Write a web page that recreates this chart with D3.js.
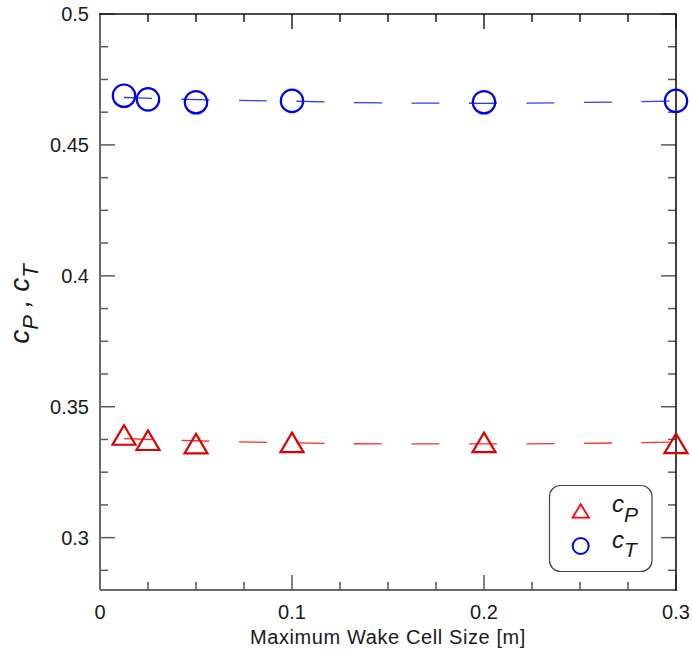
<!DOCTYPE html>
<html>
<head>
<meta charset="utf-8">
<script src="https://cdn.jsdelivr.net/npm/d3@7"></script>
<style>
  html, body { margin: 0; padding: 0; background: #fff; }
  svg { display: block; }
  text { font-family: "Liberation Sans", Arial, sans-serif; fill: #1a1a1a; }
</style>
</head>
<body>
<svg id="chart" width="692" height="650"></svg>
<script>
// ---- data ----
const cellSize = [0.0125, 0.025, 0.05, 0.1, 0.2, 0.3];
const cpValues = [0.3392, 0.3372, 0.3359, 0.3364, 0.3364, 0.3360];
const ctValues = [0.4688, 0.4674, 0.4663, 0.4668, 0.4663, 0.4668];

// fitted trend curves (dashed)
const fitX  = [0.0125, 0.05, 0.1, 0.15, 0.2, 0.25, 0.3];
const fitCP = [0.3378, 0.3370, 0.3362, 0.3358, 0.3358, 0.3360, 0.3365];
const fitCT = [0.4681, 0.4673, 0.4667, 0.4660, 0.4659, 0.4662, 0.4668];

const xTickValues = [0, 0.1, 0.2, 0.3];
const xTickLabels = ["0", "0.1", "0.2", "0.3"];
const yTickValues = [0.3, 0.35, 0.4, 0.45, 0.5];
const yTickLabels = ["0.3", "0.35", "0.4", "0.45", "0.5"];
const xMinorStep = 0.025;
const yMinorStep = 0.0125;

const xTitle = "Maximum Wake Cell Size [m]";

// ---- layout ----
const svg = d3.select("#chart");
const L = 100, R = 676, T = 14, B = 590;

const x = d3.scaleLinear().domain([0, 0.3]).range([L, R]);
const y = d3.scaleLinear().domain([0.28, 0.5]).range([B, T]);

const xMinor = d3.range(0, 0.3 + 1e-9, xMinorStep);
const yMinor = d3.range(0.2875, 0.5 + 1e-9, yMinorStep);
const isMajor = (v, arr) => arr.some(a => Math.abs(a - v) < 1e-7);

const g = svg.append("g");

// ticks (inward, all four sides)
const tickCol = "#5a5a5a";
xMinor.forEach(v => {
  const len = isMajor(v, xTickValues) ? 15 : 8;
  g.append("line").attr("x1", x(v)).attr("x2", x(v)).attr("y1", B).attr("y2", B - len)
    .attr("stroke", tickCol).attr("stroke-width", 1.5);
  g.append("line").attr("x1", x(v)).attr("x2", x(v)).attr("y1", T).attr("y2", T + len)
    .attr("stroke", "#222").attr("stroke-width", 1.5);
});
yMinor.forEach(v => {
  const len = isMajor(v, yTickValues) ? 15 : 8;
  g.append("line").attr("x1", L).attr("x2", L + len).attr("y1", y(v)).attr("y2", y(v))
    .attr("stroke", tickCol).attr("stroke-width", 1.5);
  g.append("line").attr("x1", R).attr("x2", R - len).attr("y1", y(v)).attr("y2", y(v))
    .attr("stroke", tickCol).attr("stroke-width", 1.5);
});

// frame
g.append("line").attr("x1", L).attr("x2", L).attr("y1", T).attr("y2", B).attr("stroke", "#6a6a6a").attr("stroke-width", 2);
g.append("line").attr("x1", L).attr("x2", R).attr("y1", B).attr("y2", B).attr("stroke", "#6a6a6a").attr("stroke-width", 2);
g.append("line").attr("x1", L - 1).attr("x2", R + 1).attr("y1", T).attr("y2", T).attr("stroke", "#111").attr("stroke-width", 1.6);
g.append("line").attr("x1", R).attr("x2", R).attr("y1", T).attr("y2", B + 1).attr("stroke", "#111").attr("stroke-width", 1.6);

// tick labels
xTickValues.forEach((v, i) => {
  g.append("text").attr("x", x(v)).attr("y", 619).attr("text-anchor", "middle")
    .attr("font-size", 20).text(xTickLabels[i]);
});
yTickValues.forEach((v, i) => {
  g.append("text").attr("x", 89).attr("y", y(v) + 7).attr("text-anchor", "end")
    .attr("font-size", 20).text(yTickLabels[i]);
});

// axis titles
g.append("text").attr("x", 388).attr("y", 644).attr("text-anchor", "middle")
  .attr("font-size", 20).attr("letter-spacing", 0.6).text(xTitle);

const yt = g.append("text").attr("transform", "translate(29,304) rotate(-90)")
  .attr("text-anchor", "middle").attr("font-size", 28).attr("font-style", "italic");
yt.append("tspan").text("c");
yt.append("tspan").attr("font-size", 22).attr("dy", 9).text("P");
yt.append("tspan").attr("dy", -9).text(" , ");
yt.append("tspan").text("c");
yt.append("tspan").attr("font-size", 22).attr("dy", 9).text("T");

// fit lines
const line = d3.line().x(d => x(d[0])).y(d => y(d[1])).curve(d3.curveMonotoneX);
g.append("path").datum(fitX.map((v, i) => [v, fitCT[i]])).attr("d", line)
  .attr("fill", "none").attr("stroke", "#2a3cff").attr("stroke-width", 1.3)
  .attr("stroke-dasharray", "28,29.5");
g.append("path").datum(fitX.map((v, i) => [v, fitCP[i]])).attr("d", line)
  .attr("fill", "none").attr("stroke", "#ff2a2a").attr("stroke-width", 1.3)
  .attr("stroke-dasharray", "28,29.5");

// markers
const triPath = (w, h) => `M0,${-h/2}L${w/2},${h/2}L${-w/2},${h/2}Z`;
cellSize.forEach((v, i) => {
  g.append("circle").attr("cx", x(v)).attr("cy", y(ctValues[i])).attr("r", 11.2)
    .attr("fill", "none").attr("stroke", "#0000f0").attr("stroke-width", 2.2);
  g.append("path").attr("d", triPath(23, 19.5))
    .attr("transform", `translate(${x(v)},${y(cpValues[i])})`)
    .attr("fill", "none").attr("stroke", "#dd0000").attr("stroke-width", 2.2)
    .attr("stroke-linejoin", "miter");
});

// legend
const lg = svg.append("g");
lg.append("rect").attr("x", 549.5).attr("y", 485.5).attr("width", 102.5).attr("height", 86)
  .attr("rx", 11).attr("ry", 11).attr("fill", "#fff").attr("stroke", "#444").attr("stroke-width", 1.2);
lg.append("path").attr("d", triPath(16.5, 13.4)).attr("transform", "translate(580.7,511)")
  .attr("fill", "none").attr("stroke", "#ff0000").attr("stroke-width", 1.8);
lg.append("circle").attr("cx", 580.7).attr("cy", 546).attr("r", 8)
  .attr("fill", "none").attr("stroke", "#0000f0").attr("stroke-width", 2);
const l1 = lg.append("text").attr("x", 612).attr("y", 512).attr("font-size", 24).attr("font-style", "italic");
l1.append("tspan").text("c");
l1.append("tspan").attr("font-size", 21).attr("dy", 10).text("P");
const l2 = lg.append("text").attr("x", 612).attr("y", 548).attr("font-size", 24).attr("font-style", "italic");
l2.append("tspan").text("c");
l2.append("tspan").attr("font-size", 21).attr("dy", 9).text("T");
</script>
</body>
</html>
